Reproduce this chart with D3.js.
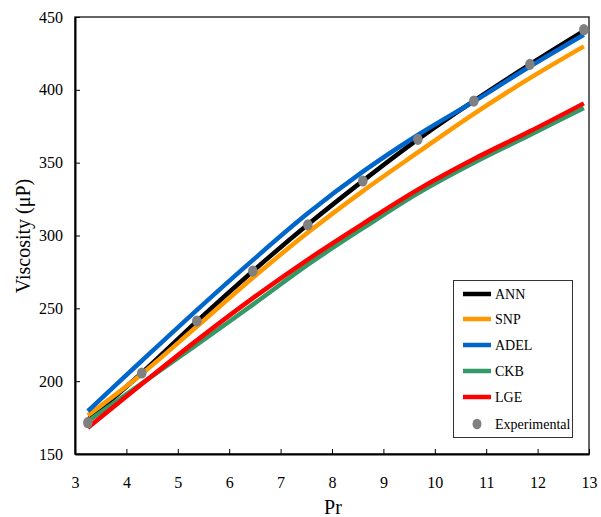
<!DOCTYPE html>
<html><head><meta charset="utf-8">
<script src="https://cdn.jsdelivr.net/npm/d3@7"></script>
<style>body{margin:0;background:#fff} svg text{font-family:'Liberation Serif','Times New Roman',Tinos,'DejaVu Serif',serif !important;}</style>
</head><body>
<svg id="c" width="601" height="517"></svg>
<script>
const prX = [3.25, 4.3, 5.37, 6.46, 7.53, 8.6, 9.67, 10.76, 11.85, 12.9];
const experimental = [171.5, 205.6, 241.3, 275.6, 307.3, 337.4, 366.0, 392.3, 417.5, 441.3];
const ann  = [173.5, 205.6, 241.0, 275.5, 307.5, 337.5, 366.0, 392.5, 417.5, 440.5];
const snp  = [176.5, 205.0, 237.5, 271.0, 302.0, 330.5, 357.0, 383.5, 408.0, 429.8];
const adel = [179.5, 214.0, 248.8, 283.1, 315.2, 343.8, 369.0, 392.0, 416.0, 437.8];
const ckb  = [172.5, 198.5, 225.0, 252.5, 280.0, 305.0, 329.0, 350.0, 369.0, 387.5];
const lge  = [168.0, 198.0, 228.0, 257.0, 283.5, 308.0, 331.5, 352.5, 371.5, 390.7];
const seriesNames = ["ANN", "SNP", "ADEL", "CKB", "LGE"];
const seriesColors = ["#000000", "#FF9900", "#0066CC", "#339966", "#FF0000"];
const seriesData = [ann, snp, adel, ckb, lge];
const xTicks = [3,4,5,6,7,8,9,10,11,12,13];
const yTicks = [150,200,250,300,350,400,450];

const svg = d3.select("#c");
const x = d3.scaleLinear().domain([3,13]).range([75,589]);
const y = d3.scaleLinear().domain([150,450]).range([454,17]);

svg.append("rect").attr("x",75).attr("y",17).attr("width",514).attr("height",437)
  .attr("fill","none").attr("stroke","#333").attr("stroke-width",1.5);

const line = d3.line().x(d=>x(d[0])).y(d=>y(d[1])).curve(d3.curveCatmullRom.alpha(0.5));
seriesData.forEach((s,i)=>{
  svg.append("path").datum(prX.map((v,j)=>[v,s[j]]))
    .attr("d",line).attr("fill","none").attr("stroke",seriesColors[i])
    .attr("stroke-width",4.5).attr("stroke-linecap","butt");
});
svg.selectAll("ellipse.exp").data(prX.map((v,j)=>[v,experimental[j]])).enter()
  .append("ellipse").attr("cx",d=>x(d[0])).attr("cy",d=>y(d[1]))
  .attr("rx",4.8).attr("ry",5.6).attr("fill","#808080");

const xa = svg.append("g").attr("transform","translate(0,454)")
  .call(d3.axisBottom(x).tickValues(xTicks).tickSizeInner(-5).tickSizeOuter(0).tickPadding(23));
const ya = svg.append("g").attr("transform","translate(75,0)")
  .call(d3.axisLeft(y).tickValues(yTicks).tickSizeInner(-5).tickSizeOuter(0).tickPadding(12));
[xa,ya].forEach(a=>{
  a.select(".domain").attr("stroke","#000").attr("stroke-width",2);
  a.selectAll(".tick line").attr("stroke","#000").attr("stroke-width",1);
  a.selectAll("text").attr("font-size",16).attr("fill","#000");
});

svg.append("text").attr("x",333).attr("y",514).attr("text-anchor","middle")
  .attr("font-size",20).text("Pr");
svg.append("text").attr("transform","translate(30,236) rotate(-90)").attr("text-anchor","middle")
  .attr("font-size",20).text("Viscosity (μP)");

const lg = svg.append("g");
lg.append("rect").attr("x",453.5).attr("y",280.5).attr("width",119).attr("height",157)
  .attr("fill","#fff").attr("stroke","#333").attr("stroke-width",1);
const rowY = [294, 319, 345, 371, 397, 424];
seriesNames.forEach((n,i)=>{
  lg.append("line").attr("x1",463).attr("x2",491).attr("y1",rowY[i]).attr("y2",rowY[i])
    .attr("stroke",seriesColors[i]).attr("stroke-width",4.5);
  lg.append("text").attr("x",495).attr("y",rowY[i]+5).attr("font-size",14).text(n);
});
lg.append("ellipse").attr("cx",477).attr("cy",rowY[5]).attr("rx",4.5).attr("ry",5.3).attr("fill","#808080");
lg.append("text").attr("x",495).attr("y",rowY[5]+5).attr("font-size",14).text("Experimental");
</script>
</body></html>
